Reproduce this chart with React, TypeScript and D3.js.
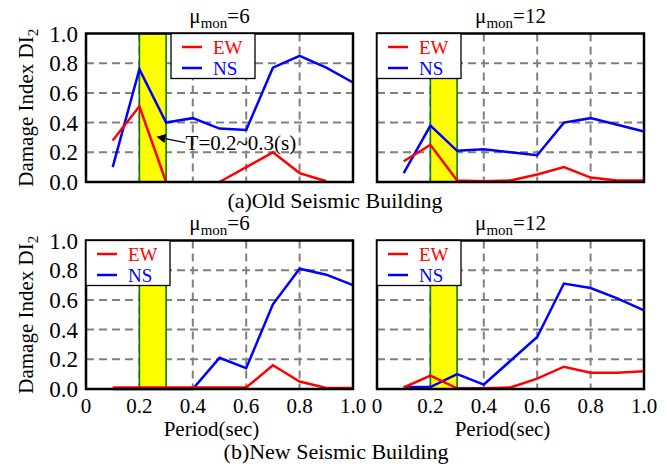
import * as d3 from "d3";

// periods (sec) shared by all four panels
const periods = [0.1, 0.2, 0.3, 0.4, 0.5, 0.6, 0.7, 0.8, 0.9, 1.0];

// (a) old seismic building
const oldMu6EW = [0.28, 0.51, 0, null, 0, 0.1, 0.2, 0.06, 0.005, null];
const oldMu6NS = [0.1, 0.76, 0.4, 0.43, 0.36, 0.35, 0.77, 0.85, 0.77, 0.67];
const oldMu12EW = [0.14, 0.25, 0.01, 0.005, 0.01, 0.05, 0.1, 0.03, 0.01, 0.01];
const oldMu12NS = [0.06, 0.38, 0.21, 0.22, 0.2, 0.18, 0.4, 0.43, 0.385, 0.34];

// (b) new seismic building
const newMu6EW = [0.01, 0.01, 0.01, 0.01, 0.01, 0.01, 0.16, 0.05, 0.007, 0.007];
const newMu6NS = [0, 0, 0, 0, 0.21, 0.14, 0.57, 0.81, 0.77, 0.7];
const newMu12EW = [0.01, 0.09, 0.005, 0.005, 0.01, 0.07, 0.15, 0.11, 0.11, 0.12];
const newMu12NS = [0.013, 0.013, 0.1, 0.03, 0.19, 0.35, 0.71, 0.68, 0.61, 0.53];

const xTicks = [0, 0.2, 0.4, 0.6, 0.8, 1.0];
const yTicks = [0, 0.2, 0.4, 0.6, 0.8, 1.0];
const gridTicks = [0.2, 0.4, 0.6, 0.8];
const band = [0.2, 0.3];
const seriesNames = ["EW", "NS"];
const seriesColors = ["#ff0000", "#0000ff"];
const muLabels = ["6", "12"];
const captions = ["(a)Old Seismic Building", "(b)New Seismic Building"];
const annotationText = "T=0.2~0.3(s)";

const FONT = "'Liberation Serif', 'Times New Roman', serif";
const plotW = 267;
const plotH = 148.5;
const colLeft = [86, 377];
const rowTop = [33.5, 240.5];

type PanelProps = {
  left: number;
  top: number;
  ew: (number | null)[];
  ns: (number | null)[];
  mu: string;
  yAxis: boolean;
  xAxis: boolean;
  legendOffset: number;
  annotate: boolean;
};

const Panel = ({ left, top, ew, ns, mu, yAxis, xAxis, legendOffset, annotate }: PanelProps) => {
  const x = d3.scaleLinear().domain([0, 1]).range([0, plotW]);
  const y = d3.scaleLinear().domain([0, 1]).range([plotH, 0]);

  const line = d3
    .line<number | null>()
    .defined((d) => d !== null)
    .x((_, i) => x(periods[i]))
    .y((d) => y(d as number));

  // arrow for the annotation
  const tip = [x(0.264), y(0.305)];
  const tail = [x(0.372), y(0.265)];
  const ang = Math.atan2(tail[1] - tip[1], tail[0] - tip[0]);
  const ah = 9;
  const aw = 4.5;
  const base = [tip[0] + ah * Math.cos(ang), tip[1] + ah * Math.sin(ang)];
  const arrowHead = [
    tip,
    [base[0] - aw * Math.sin(ang), base[1] + aw * Math.cos(ang)],
    [base[0] + aw * Math.sin(ang), base[1] - aw * Math.cos(ang)],
  ];

  const lx = legendOffset;

  return (
    <g transform={`translate(${left},${top})`}>
      <rect width={plotW} height={plotH} fill="#fff" />
      {/* grid */}
      {gridTicks.map((t) => (
        <line key={"h" + t} x1={0} x2={plotW} y1={y(t)} y2={y(t)} stroke="#808080" strokeWidth={2} strokeDasharray="8,5" />
      ))}
      {gridTicks.map((t) => (
        <line key={"v" + t} x1={x(t)} x2={x(t)} y1={0} y2={plotH} stroke="#808080" strokeWidth={2} strokeDasharray="8,5" />
      ))}
      {/* period band */}
      <rect
        x={x(band[0])}
        y={0}
        width={x(band[1]) - x(band[0])}
        height={plotH}
        fill="#ffff00"
        stroke="#0a7a0a"
        strokeWidth={1.6}
      />
      <path d={line(ns) || ""} fill="none" stroke={seriesColors[1]} strokeWidth={2.5} />
      <path d={line(ew) || ""} fill="none" stroke={seriesColors[0]} strokeWidth={2.5} />
      <rect width={plotW} height={plotH} fill="none" stroke="#000" strokeWidth={2.5} />

      {/* legend */}
      <g transform={`translate(${lx},0)`}>
        <rect width={84} height={45} fill="#fff" stroke="#000" strokeWidth={1.3} />
        {seriesNames.map((name, i) => (
          <g key={name} transform={`translate(0,${13.5 + i * 21})`}>
            <line x1={11} x2={31} y1={0} y2={0} stroke={seriesColors[i]} strokeWidth={2.5} />
            <text x={42} y={7} fontFamily={FONT} fontSize={19} fill={seriesColors[i]}>
              {name}
            </text>
          </g>
        ))}
      </g>

      {annotate && (
        <g>
          <line x1={tail[0]} y1={tail[1]} x2={base[0]} y2={base[1]} stroke="#000" strokeWidth={1.3} />
          <polygon points={arrowHead.map((p) => p.join(",")).join(" ")} fill="#000" />
          <text x={x(0.373)} y={y(0.215)} fontFamily={FONT} fontSize={21} fill="#000">
            {annotationText}
          </text>
        </g>
      )}

      {/* title */}
      <text x={plotW / 2} y={-10.5} textAnchor="middle" fontFamily={FONT} fontSize={21} fill="#000">
        μ<tspan fontSize={15} dy={5}>mon</tspan>
        <tspan dy={-5}>={mu}</tspan>
      </text>

      {yAxis && (
        <g>
          {yTicks.map((t) => (
            <text key={t} x={-8} y={y(t)} dy="0.35em" textAnchor="end" fontFamily={FONT} fontSize={23} fill="#000">
              {t.toFixed(1)}
            </text>
          ))}
          <text
            transform={`translate(-53,${plotH / 2}) rotate(-90)`}
            textAnchor="middle"
            fontFamily={FONT}
            fontSize={21}
            fill="#000"
          >
            Damage Index DI<tspan fontSize={15} dy={5}>2</tspan>
          </text>
        </g>
      )}

      {xAxis && (
        <g>
          {xTicks.map((t) => (
            <text key={t} x={x(t)} y={plotH + 24} textAnchor="middle" fontFamily={FONT} fontSize={21} fill="#000">
              {t === 0 ? "0" : t.toFixed(1)}
            </text>
          ))}
          <text x={plotW / 2 - 8} y={plotH + 47} textAnchor="middle" fontFamily={FONT} fontSize={21} fill="#000">
            Period(sec)
          </text>
        </g>
      )}
    </g>
  );
};

export default function App() {
  return (
    <div style={{ position: "absolute", left: 0, top: 0 }}>
      <svg width={667} height={468} style={{ display: "block", background: "#fff" }}>
        <Panel left={colLeft[0]} top={rowTop[0]} ew={oldMu6EW} ns={oldMu6NS} mu={muLabels[0]} yAxis xAxis={false} legendOffset={85} annotate />
        <Panel left={colLeft[1]} top={rowTop[0]} ew={oldMu12EW} ns={oldMu12NS} mu={muLabels[1]} yAxis={false} xAxis={false} legendOffset={0} annotate={false} />
        <Panel left={colLeft[0]} top={rowTop[1]} ew={newMu6EW} ns={newMu6NS} mu={muLabels[0]} yAxis xAxis legendOffset={0} annotate={false} />
        <Panel left={colLeft[1]} top={rowTop[1]} ew={newMu12EW} ns={newMu12NS} mu={muLabels[1]} yAxis={false} xAxis legendOffset={0} annotate={false} />
        <text x={335} y={208} textAnchor="middle" fontFamily={FONT} fontSize={22} fill="#000">
          {captions[0]}
        </text>
        <text x={336} y={459} textAnchor="middle" fontFamily={FONT} fontSize={22} fill="#000">
          {captions[1]}
        </text>
      </svg>
    </div>
  );
}
